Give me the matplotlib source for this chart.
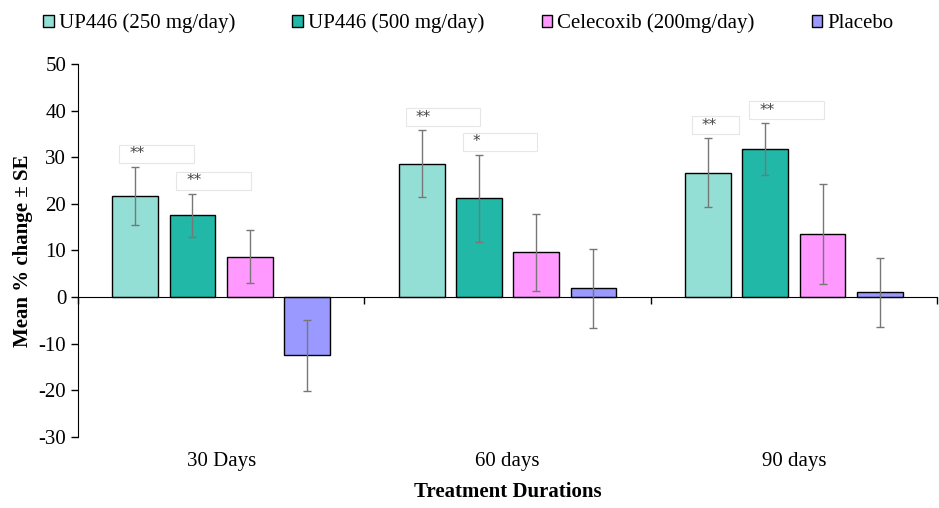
import numpy as np
import matplotlib
matplotlib.use('Agg')
import matplotlib.pyplot as plt
import matplotlib.transforms as mtransforms
from matplotlib.patches import Rectangle

plt.rcParams['font.family'] = ['Liberation Serif', 'DejaVu Serif']
plt.rcParams['axes.unicode_minus'] = False

# Data
durations = ['30 Days', '60 days', '90 days']
groups = ['UP446 (250 mg/day)', 'UP446 (500 mg/day)', 'Celecoxib (200mg/day)', 'Placebo']
means = [
    [21.7, 28.6, 26.7],    # UP446 250
    [17.5, 21.2, 31.7],    # UP446 500
    [8.7, 9.6, 13.5],      # Celecoxib
    [-12.5, 1.9, 1.0],     # Placebo
]
se = [
    [6.2, 7.2, 7.4],
    [4.6, 9.3, 5.6],
    [5.6, 8.2, 10.8],
    [7.6, 8.5, 7.4],
]
# significance marks: (group index, duration index, label)
sig = [(0, 0, '**'), (1, 0, '**'), (0, 1, '**'), (1, 1, '*'), (0, 2, '**'), (1, 2, '**')]

colors = ['#93DFD5', '#22B8A8', '#FF99FF', '#9999FF']
fs = 15

fig = plt.figure(figsize=(9.39, 5.08), dpi=100)
ax = fig.add_axes([0.083, 0.140, 0.915, 0.734])

x = np.arange(len(durations)) + 0.5
width = 0.16
step = 0.2
offsets = (np.arange(len(groups)) - 1.5) * step

for i, g in enumerate(groups):
    ax.bar(x + offsets[i], means[i], width, color=colors[i], edgecolor='black',
           linewidth=1, label=g, zorder=2)
    ax.errorbar(x + offsets[i], means[i], yerr=se[i], fmt='none', ecolor='#777777',
                elinewidth=1, capsize=3, capthick=1, zorder=3)

# significance boxes
for gi, di, lab in sig:
    bx = x[di] + offsets[gi] - 0.056
    top = means[gi][di] + se[gi][di] + 0.8
    w = 0.26 if not (gi == 0 and di == 2) else 0.165
    ax.add_patch(Rectangle((bx, top), w, 4.0, facecolor='white', edgecolor='#e6e6e6',
                           linewidth=0.8, zorder=4))
    ax.text(bx + 0.035, top + 2.0, lab, fontsize=11, color='#444444', ha='left',
            va='center', zorder=5, family='DejaVu Sans')

ax.set_xlim(0, 3)
ax.set_ylim(-30, 50)
ax.set_yticks(np.arange(-30, 51, 10))
ax.spines['top'].set_visible(False)
ax.spines['right'].set_visible(False)
ax.spines['bottom'].set_position(('data', 0))
ax.set_xticks([0, 1, 2, 3])
ax.set_xticklabels([])
ax.tick_params(axis='x', direction='out', length=5, width=1)
ax.tick_params(axis='y', direction='out', length=5, width=1, labelsize=fs)

trans = mtransforms.blended_transform_factory(ax.transData, ax.transAxes)
for xi, d in zip(x, durations):
    ax.text(xi, -0.066, d, transform=trans, ha='center', va='center', fontsize=fs)

ax.text(0.5, -0.147, 'Treatment Durations', transform=ax.transAxes, ha='center',
        va='center', fontsize=fs, fontweight='bold')
ax.set_ylabel('Mean % change \u00b1 SE', fontsize=fs, fontweight='bold', labelpad=4)

fig.legend(loc='upper left', bbox_to_anchor=(0.026, 1.01), ncol=4, frameon=False,
           fontsize=fs, handlelength=0.5, handleheight=0.5, handletextpad=0.25,
           columnspacing=2.75)

fig.savefig('out.png', dpi=100)
